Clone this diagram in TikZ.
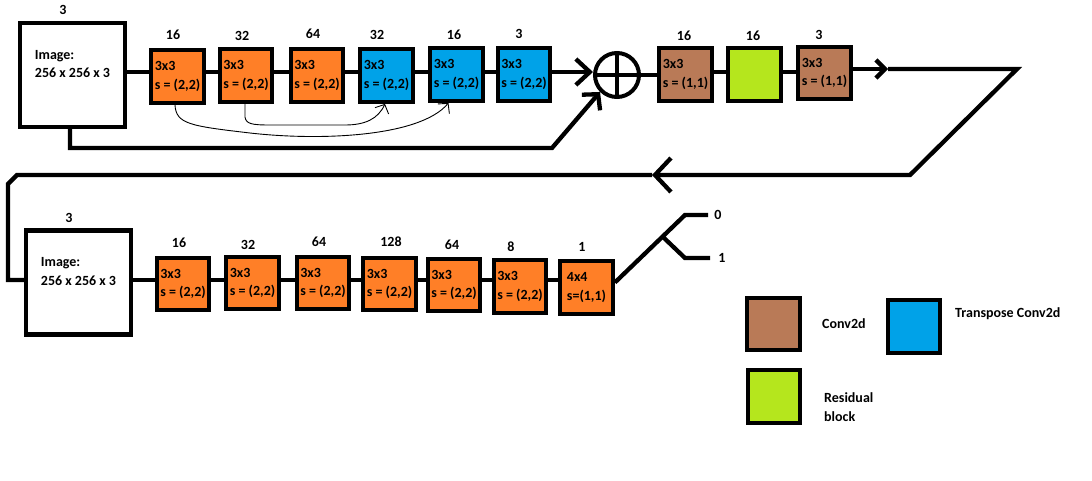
\documentclass[tikz,border=0pt]{standalone}
\usepackage{fontspec}
\setmainfont{Carlito}
\usetikzlibrary{arrows.meta,calc}
\definecolor{porange}{HTML}{FF7F27}
\definecolor{pblue}{HTML}{00A2E8}
\definecolor{pbrown}{HTML}{B97A57}
\definecolor{pgreen}{HTML}{B5E61D}
\tikzset{
  every node/.style={font=\fontsize{14}{18.5}\selectfont\bfseries, text=black},
  box/.style={draw=black, line width=4.3pt, minimum width=52.5pt, minimum height=52.5pt,
    align=left, inner sep=0pt},
  imgbox/.style={draw=black, fill=white, line width=4.3pt, minimum width=104.5pt, minimum height=104pt,
    align=left, inner sep=0pt},
  sumnode/.style={circle, draw=black, line width=4pt, minimum size=44pt, inner sep=0pt},
  lbl/.style={inner sep=0pt},
  conn/.style={draw=black, line width=4.3pt},
  thinc/.style={draw=black, line width=0.9pt},
  arrA/.style={-{Straight Barb[length=14pt,width=26pt]}},
  arrB/.style={-{Straight Barb[length=9pt,width=18pt]}},
  arrC/.style={-{Straight Barb[length=16pt,width=34pt]}},
  arrD/.style={-{Straight Barb[length=11pt,width=24pt]}},
  arrT/.style={-{Straight Barb[length=7pt,width=15pt]}},
}
\begin{document}
\begin{tikzpicture}[x=1pt,y=-1pt]
\fill[white] (0,0) rectangle (1092,481);
\useasboundingbox (0,0) rectangle (1092,481);

% ---------- top row ----------
\node[imgbox] (img1) at (72.5,75) {Image:\\256 x 256 x 3\\[4pt]};
\node[box,fill=porange] (b1) at (177.5,76.5) {3x3\\s = (2,2)};
\node[box,fill=porange] (b2) at (246,75.5) {3x3\\s = (2,2)};
\node[box,fill=porange] (b3) at (317,75.5) {3x3\\s = (2,2)};
\node[box,fill=pblue] (b4) at (386.5,75.5) {3x3\\s = (2,2)};
\node[box,fill=pblue] (b5) at (456.5,74.5) {3x3\\s = (2,2)};
\node[box,fill=pblue] (b6) at (524,74.5) {3x3\\s = (2,2)};
\node[sumnode] (sum) at (617,75) {};
\node[box,fill=pbrown] (br1) at (685.5,74.5) {3x3\\s = (1,1)};
\node[box,fill=pgreen] (rb) at (754.5,74.5) {};
\node[box,fill=pbrown] (br2) at (824.5,73) {3x3\\s = (1,1)};

\node[lbl] (limg1) at (63,10) {3};
\node[lbl] (lb1) at (173,35) {16};
\node[lbl] (lb2) at (242,36) {32};
\node[lbl] (lb3) at (313,34) {64};
\node[lbl] (lb4) at (377,35) {32};
\node[lbl] (lb5) at (454,35) {16};
\node[lbl] (lb6) at (519,34) {3};
\node[lbl] (lbr1) at (684,36) {16};
\node[lbl] (lrb) at (753,36) {16};
\node[lbl] (lbr2) at (819,35) {3};

\coordinate (yt) at (0,72);
\draw[conn] (img1.east |- yt) -- (b1.west |- yt);
\foreach \a/\b in {b1/b2,b2/b3,b3/b4,b4/b5,b5/b6}
  \draw[conn] (\a.east |- yt) -- (\b.west |- yt);
\draw[conn,arrA] (b6.east |- yt) -- (sum.west |- yt);
\draw[line width=4pt] (sum.north) -- (sum.south) (sum.west) -- (sum.east);
\draw[conn] (sum.east) -- (br1.west |- sum.east);
\draw[conn] (br1.east |- yt) -- (rb.west |- yt);
\draw[conn] (rb.east |- yt) -- (br2.west |- yt);

% skip connection
\coordinate (sk1) at (552,148);
\draw[conn,arrD] ([xshift=-2.5pt]img1.south) |- (sk1) -- (sum.225);

% thin curved skips
\draw[thinc,arrT] ([xshift=-2.5pt]b1.south) .. controls (176,124) and (190,126) .. (250,133)
   .. controls (320,141) and (420,137) .. ([xshift=-8pt]b5.south);
\draw[thinc,arrT] ([xshift=-1pt]b2.south) -- (245,117) .. controls (246,124) and (252,125) .. (270,125)
   -- (345,125) .. controls (365,125) and (378,119) .. ([xshift=-1.5pt]b4.south);

% ---------- bottom row ----------
\node[imgbox] (img2) at (78.5,282.5) {Image:\\256 x 256 x 3\\[4pt]};
\node[box,fill=porange] (c1) at (183,284) {3x3\\s = (2,2)};
\node[box,fill=porange] (c2) at (252.5,283) {3x3\\s = (2,2)};
\node[box,fill=porange] (c3) at (323,283) {3x3\\s = (2,2)};
\node[box,fill=porange] (c4) at (389.5,284) {3x3\\s = (2,2)};
\node[box,fill=porange] (c5) at (454,285) {3x3\\s = (2,2)};
\node[box,fill=porange] (c6) at (520,286.5) {3x3\\s = (2,2)};
\node[box,fill=porange] (c7) at (586.5,287.5) {4x4\\s=(1,1)};

\node[lbl] (limg2) at (69,218) {3};
\node[lbl] (lc1) at (179,243) {16};
\node[lbl] (lc2) at (248,245) {32};
\node[lbl] (lc3) at (319,242) {64};
\node[lbl] (lc4) at (391,242) {128};
\node[lbl] (lc5) at (452,245) {64};
\node[lbl] (lc6) at (511,247) {8};
\node[lbl] (lc7) at (582,247) {1};

% output and return path
\coordinate (yo) at (0,69);
\coordinate (a1) at (888,69);
\coordinate (r1) at (1017,69);
\coordinate (r2) at (910,175);
\coordinate (a2) at (652,175);
\coordinate (r3) at (17,175);
\coordinate (r4) at (8,184);
\coordinate (r5) at (8,280);
\draw[conn,arrB] (br2.east |- yo) -- (a1);
\draw[conn,arrC] (a1) -- (r1) -- (r2) -- (a2);
\draw[conn] (a2) -- (r3) -- (r4) -- (r5) -- (img2.west |- r5);

\coordinate (yb) at (0,280);
\draw[conn] (img2.east |- yb) -- (c1.west |- yb);
\foreach \a/\b in {c1/c2,c2/c3,c3/c4,c4/c5,c5/c6,c6/c7}
  \draw[conn] (\a.east |- yb) -- (\b.west |- yb);

% output fork
\coordinate (f0) at ([yshift=5pt]c7.east);
\coordinate (f1) at (685,215);
\coordinate (f2) at (708,215);
\coordinate (f3) at (685,258);
\coordinate (f4) at (710,258);
\coordinate (fb) at ($(f0)!0.68!(f1)$);
\draw[conn] (f0) -- (f1) -- (f2);
\draw[conn] (fb) -- (f3) -- (f4);
\node[lbl] (l0) at (718,215) {0};
\node[lbl] (l1) at (722,258) {1};

% ---------- legend ----------
\node[box,fill=pbrown] (lg1) at (773.5,324) {};
\node[box,fill=pblue] (lg2) at (914,326.5) {};
\node[box,fill=pgreen] (lg3) at (774,396.5) {};
\node[lbl,anchor=west] (tlg1) at (822,324) {Conv2d};
\node[lbl,anchor=west] (tlg2) at (955,314) {Transpose Conv2d};
\node[lbl,anchor=west,align=left] (tlg3) at (824,407) {Residual\\block};
\end{tikzpicture}
\end{document}
